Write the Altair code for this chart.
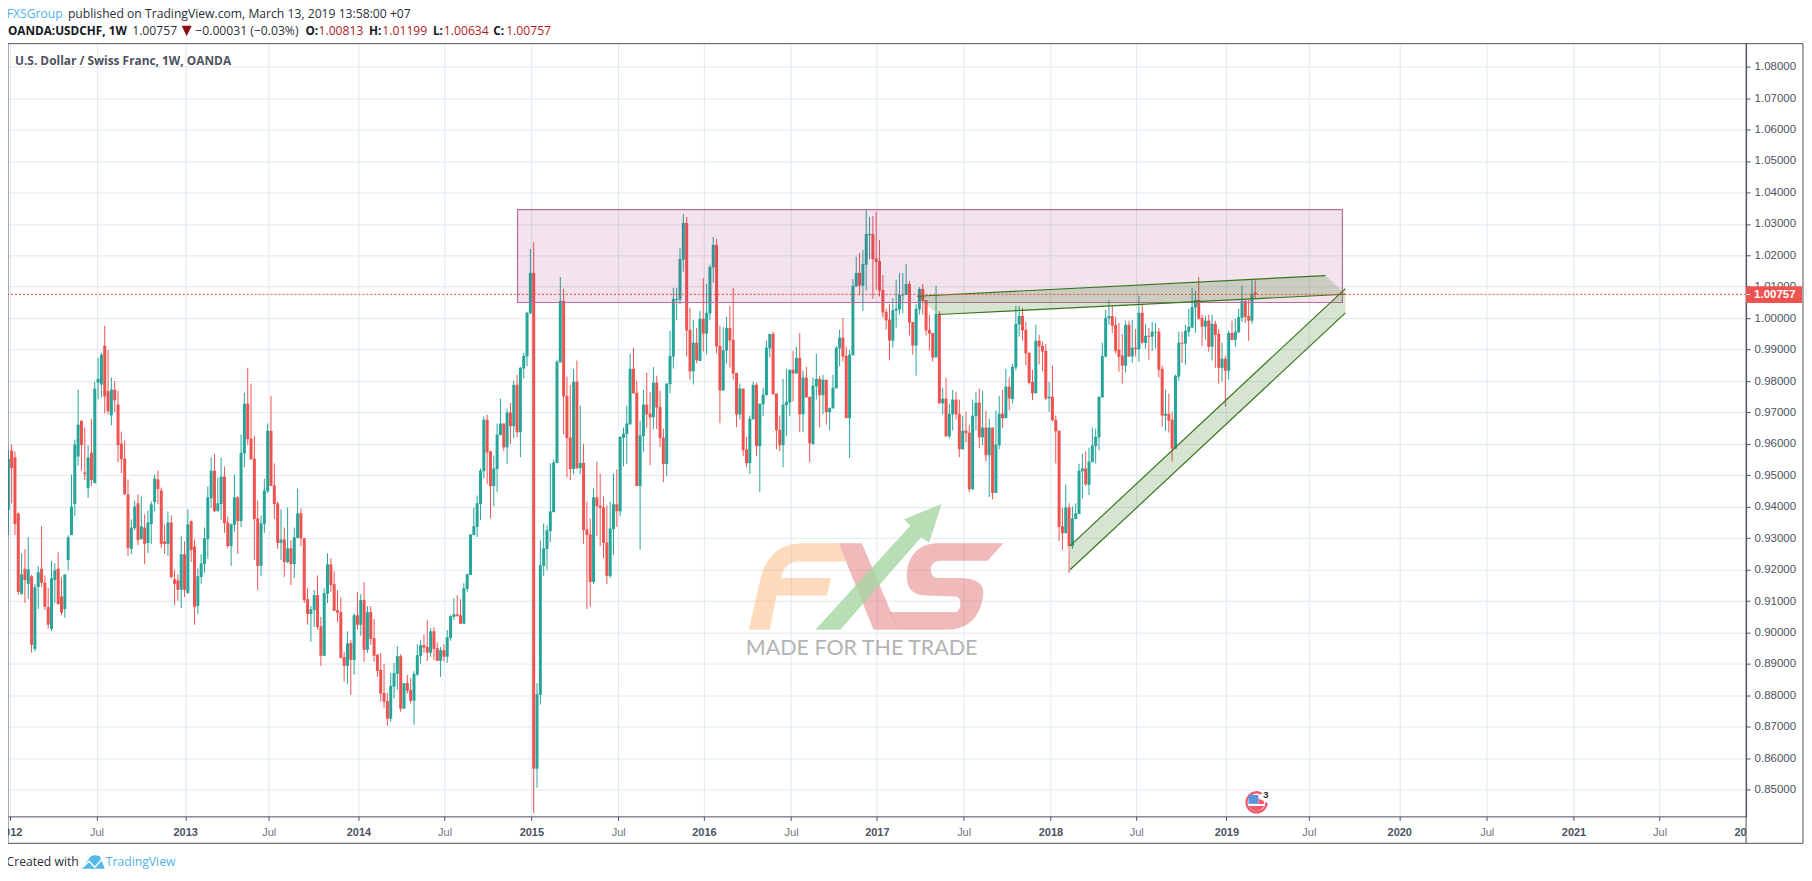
import altair as alt
import pandas as pd

# weekly candles: (open, high, low, close) in 1/10000 of a franc
ohlc_2012 = [(9390,9582,9310,9553),(9579,9598,9411,9523),(9557,9576,9310,9345),(9379,9382,9120,9129),(9123,9252,9120,9185),(9203,9265,9094,9167),(9155,9303,9107,9201),(9179,9183,8936,8961),(8948,9154,8939,9144),(9145,9211,9075,9192),(9203,9338,9145,9158),(9159,9182,9072,9082),(9081,9142,9012,9025),(9012,9227,9005,9173),(9167,9220,9094,9198),(9203,9255,9088,9091),(9115,9176,9056,9063),(9075,9185,9047,9185),(9231,9309,9198,9303),(9310,9503,9310,9401),(9409,9614,9370,9598),(9560,9773,9531,9661),(9674,9674,9515,9596),(9509,9652,9485,9504),(9459,9595,9428,9557),(9572,9680,9466,9485),(9475,9798,9475,9776),(9795,9874,9742,9807),(9789,9890,9748,9884),(9912,9976,9697,9751),(9768,9899,9694,9704),(9691,9811,9659,9773),(9773,9801,9701,9739),(9725,9769,9542,9596),(9601,9639,9507,9551),(9553,9611,9437,9440),(9439,9487,9244,9269),(9266,9360,9250,9334),(9332,9420,9326,9401),(9411,9439,9278,9294),(9297,9433,9297,9338),(9334,9376,9218,9282),(9285,9388,9253,9350),(9345,9417,9282,9408),(9415,9503,9386,9490),(9487,9515,9409,9456),(9452,9461,9269,9282),(9290,9344,9250,9282),(9282,9385,9244,9350),(9350,9373,9172,9177),(9169,9198,9088,9155),(9166,9185,9101,9136),(9136,9306,9078,9249)]
ohlc_2013 = [(9249,9290,9113,9136),(9126,9392,9123,9344),(9354,9357,9224,9262),(9274,9296,9025,9082),(9085,9204,9059,9179),(9177,9249,9155,9220),(9218,9334,9190,9300),(9297,9465,9234,9430),(9427,9557,9396,9515),(9515,9569,9383,9386),(9386,9493,9386,9411),(9409,9557,9358,9496),(9496,9528,9317,9348),(9350,9369,9269,9275),(9275,9347,9212,9344),(9342,9503,9320,9430),(9430,9433,9250,9355),(9355,9630,9336,9572),(9570,9763,9526,9728),(9728,9842,9596,9615),(9617,9792,9551,9551),(9553,9626,9231,9361),(9363,9420,9136,9212),(9212,9373,9180,9347),(9345,9490,9317,9452),(9450,9665,9443,9642),(9642,9753,9466,9466),(9468,9538,9361,9409),(9411,9417,9266,9285),(9285,9392,9231,9296),(9296,9334,9177,9224),(9224,9398,9221,9268),(9268,9293,9151,9218),(9218,9334,9174,9303),(9301,9458,9301,9379),(9379,9395,9275,9300),(9300,9300,9094,9103),(9106,9141,9025,9059),(9059,9084,8971,9074),(9072,9135,9018,9119),(9119,9182,9009,9018),(9020,9050,8894,8926),(8926,9141,8926,9125),(9123,9252,9094,9217),(9217,9236,9129,9151),(9154,9195,9069,9069),(9071,9135,9034,9063),(9065,9112,8917,8920),(8922,8938,8844,8894),(8894,9004,8837,8966),(8966,8976,8802,8913),(8913,9061,8866,9055)]
ohlc_2014 = [(9055,9128,9009,9025),(9025,9122,8990,9103),(9103,9160,8907,8945),(8945,9084,8936,9065),(9065,9084,8961,8980),(8982,9043,8907,8926),(8929,8932,8859,8878),(8881,8935,8780,8806),(8808,8900,8761,8780),(8782,8808,8704,8726),(8726,8871,8717,8830),(8828,8903,8790,8871),(8869,8957,8818,8925),(8925,8931,8748,8758),(8758,8839,8758,8839),(8839,8865,8806,8815),(8817,8855,8774,8783),(8783,8877,8707,8868),(8866,8963,8863,8928),(8926,8976,8901,8960),(8960,8993,8936,8952),(8954,9039,8910,8936),(8936,9014,8923,9004),(9004,9017,8913,8948),(8950,8969,8910,8910),(8910,8954,8859,8944),(8944,8963,8907,8923),(8923,9008,8904,8985),(8983,9055,8974,9052),(9050,9109,9040,9058),(9058,9119,9050,9053),(9055,9106,9028,9028),(9028,9157,9028,9141),(9139,9188,9129,9185),(9183,9312,9183,9312),(9310,9398,9310,9338),(9336,9436,9304,9411),(9409,9522,9358,9515),(9513,9687,9491,9677),(9677,9693,9472,9573),(9576,9579,9364,9466),(9466,9563,9402,9522),(9520,9665,9447,9630),(9628,9744,9628,9665),(9665,9665,9577,9589),(9589,9712,9536,9700),(9700,9731,9599,9656),(9656,9801,9618,9788),(9788,9820,9621,9637),(9637,9845,9558,9842),(9840,9890,9808,9880),(9878,10020,9847,10017)]
ohlc_2015 = [(10015,10220,10015,10144),(10144,10242,8425,8567),(8567,8839,8507,8804),(8802,9293,8771,9214),(9212,9347,9180,9268),(9266,9341,9199,9325),(9323,9539,9288,9385),(9383,9550,9383,9541),(9539,9868,9539,9861),(9859,10131,9859,10055),(10055,10093,9631,9751),(9753,9814,9494,9618),(9620,9788,9485,9520),(9520,9839,9504,9798),(9798,9865,9520,9523),(9523,9722,9504,9540),(9540,9601,9282,9326),(9328,9417,9075,9310),(9312,9363,9082,9161),(9161,9458,9155,9430),(9430,9544,9307,9402),(9404,9506,9275,9396),(9398,9433,9237,9285),(9287,9404,9155,9180),(9180,9417,9174,9331),(9329,9506,9247,9408),(9408,9519,9336,9386),(9386,9625,9370,9622),(9620,9652,9529,9633),(9631,9722,9536,9665),(9662,9887,9662,9839),(9839,9906,9761,9761),(9763,9801,9466,9466),(9466,9674,9263,9627),(9625,9772,9574,9725),(9725,9826,9650,9694),(9696,9766,9532,9685),(9685,9845,9647,9795),(9795,9817,9647,9716),(9718,9769,9590,9618),(9620,9649,9478,9536),(9536,9792,9497,9792),(9790,9960,9761,9880),(9878,10096,9840,10061),(10058,10096,9993,10061),(10059,10223,10045,10188),(10186,10331,10148,10303),(10303,10322,9878,9961),(9963,10033,9805,9831),(9831,9995,9789,9922),(9922,9969,9856,9866),(9864,10023,9864,9998)]
ohlc_2016 = [(9998,10128,9894,9951),(9951,10109,9885,10017),(10015,10169,9993,10163),(10161,10258,10113,10233),(10233,10252,9888,9910),(9912,9976,9666,9770),(9770,9972,9770,9898),(9897,10004,9856,9969),(9969,10039,9843,9929),(9931,10096,9805,9824),(9826,9826,9653,9694),(9694,9792,9678,9776),(9776,9776,9561,9580),(9582,9623,9526,9539),(9539,9690,9504,9680),(9678,9798,9678,9788),(9788,9795,9561,9593),(9593,9728,9447,9728),(9726,9779,9688,9757),(9755,9928,9755,9906),(9904,9950,9875,9950),(9950,9957,9758,9758),(9760,9760,9583,9643),(9645,9690,9577,9596),(9596,9807,9526,9725),(9723,9839,9624,9734),(9732,9836,9688,9836),(9836,9896,9735,9824),(9824,9909,9824,9874),(9874,9953,9638,9694),(9694,9833,9637,9811),(9811,9845,9748,9748),(9750,9750,9542,9602),(9600,9811,9596,9785),(9783,9887,9741,9807),(9807,9817,9653,9755),(9755,9820,9694,9804),(9804,9804,9662,9701),(9701,9715,9643,9715),(9713,9820,9713,9779),(9777,9912,9777,9906),(9904,9963,9847,9938),(9938,10001,9862,9878),(9880,9909,9682,9682),(9682,9899,9555,9884),(9882,10125,9882,10103),(10101,10195,10101,10144),(10144,10207,10074,10103),(10103,10217,10023,10172),(10170,10344,10088,10268),(10264,10322,10188,10268),(10268,10325,10062,10188)]
ohlc_2017 = [(10190,10338,10090,10179),(10182,10249,10069,10088),(10090,10137,10002,10018),(10020,10030,9964,9993),(9995,10045,9866,9929),(9928,10064,9906,10025),(10024,10122,9970,10030),(10028,10144,10012,10074),(10072,10144,10016,10076),(10074,10172,10074,10109),(10109,10118,9945,9986),(9988,9988,9884,9913),(9913,10045,9817,10030),(10028,10099,10012,10093),(10093,10109,10012,10055),(10057,10058,9945,9961),(9963,10011,9897,9951),(9953,9953,9862,9875),(9875,10103,9875,10014),(10014,10023,9729,9729),(9729,9779,9694,9744),(9744,9811,9624,9624),(9624,9728,9618,9696),(9694,9772,9643,9741),(9741,9766,9678,9694),(9696,9741,9558,9583),(9583,9690,9583,9642),(9642,9703,9605,9634),(9636,9661,9447,9456),(9456,9741,9453,9690),(9688,9766,9643,9731),(9731,9776,9586,9621),(9621,9769,9596,9652),(9652,9706,9545,9564),(9564,9680,9431,9652),(9652,9652,9424,9444),(9444,9706,9444,9598),(9596,9753,9583,9696),(9696,9772,9650,9682),(9682,9839,9682,9782),(9782,9811,9707,9745),(9743,9855,9729,9845),(9843,10039,9834,9982),(9980,10039,9942,10007),(10007,10033,9929,9961),(9963,9988,9850,9888),(9890,9890,9789,9795),(9797,9836,9739,9761),(9761,9979,9761,9928),(9928,9947,9853,9910),(9912,9925,9831,9894),(9896,9918,9739,9745)]
ohlc_2018 = [(9745,9798,9702,9750),(9750,9849,9672,9675),(9677,9690,9538,9640),(9642,9642,9291,9336),(9338,9398,9263,9316),(9316,9471,9316,9398),(9398,9411,9190,9275),(9275,9401,9266,9363),(9361,9411,9361,9379),(9377,9537,9377,9515),(9513,9569,9427,9522),(9522,9576,9466,9472),(9470,9588,9437,9544),(9542,9652,9542,9595),(9593,9649,9538,9623),(9621,9750,9580,9750),(9748,9922,9748,9880),(9878,10026,9875,10001),(10000,10058,9979,10007),(10007,10042,9953,9976),(9979,10004,9887,9896),(9900,9985,9830,9877),(9881,9950,9792,9849),(9849,9992,9827,9979),(9979,9992,9877,9878),(9878,9995,9858,9906),(9906,9966,9878,9901),(9901,10071,9861,10017),(10017,10045,9919,9922),(9921,9982,9903,9944),(9944,9969,9868,9941),(9941,9988,9896,9957),(9955,9985,9903,9957),(9957,9969,9811,9836),(9839,9849,9655,9690),(9690,9773,9642,9696),(9696,9760,9636,9674),(9677,9703,9544,9585),(9585,9820,9585,9817),(9814,9957,9801,9922),(9922,9957,9858,9919),(9919,9979,9852,9960),(9957,10030,9941,9973),(9970,10096,9969,10036),(10034,10087,9953,10058),(10058,10131,9995,9998),(10001,10011,9912,9973),(9973,10007,9931,9992),(9992,10011,9893,9909),(9909,10011,9865,9982),(9982,9992,9842,9947),(9950,9966,9792,9842),(9842,9922,9798,9871)]
ohlc_2019 = [(9871,9881,9719,9833),(9833,9960,9804,9953),(9953,9992,9931,9931),(9931,9998,9909,9957),(9955,10030,9953,10004),(10001,10103,9988,10055),(10055,10058,9985,10004),(10007,10058,9928,9992),(9992,10125,9982,10077),(10081.3,10119.9,10063.4,10075.7)]

tick_bars = [1.4,27.5,54.2,79.3,106.3,132.2,158.3,184.4,210.2,236.4,262.2,288.3,314.4,340.2,367.3,392.1,419.3,445.6,471.7,497.6,523.6]
tick_names = ["2012","Jul","2013","Jul","2014","Jul","2015","Jul","2016","Jul","2017","Jul","2018","Jul","2019","Jul","2020","Jul","2021","Jul","2022"]
price_ticks = [0.85,0.86,0.87,0.88,0.89,0.90,0.91,0.92,0.93,0.94,0.95,0.96,0.97,0.98,0.99,1.00,1.01,1.02,1.03,1.04,1.05,1.06,1.07,1.08]
last_price = 1.00757

zone = [dict(a=154.15, b=402.2, top=1.0345, bottom=1.00498)]
upper_band = [dict(bar=274.3, hi=1.00698, lo=1.00698), dict(bar=280.6, hi=1.00733, lo=1.00117),
              dict(bar=397.1, hi=1.01355, lo=1.00729), dict(bar=403.1, hi=1.00761, lo=1.00761)]
upper_hi_line = [dict(bar=274.3, p=1.00698), dict(bar=397.1, p=1.01355)]
upper_lo_line = [dict(bar=280.6, p=1.00117), dict(bar=403.1, p=1.00761)]
rising_band = [dict(bar=320.3, hi=0.92759, lo=0.91996), dict(bar=403.1, hi=1.00942, lo=1.00167)]
rising_hi_line = [dict(bar=320.3, p=0.92759), dict(bar=403.1, p=1.00942)]
rising_lo_line = [dict(bar=320.3, p=0.91996), dict(bar=403.1, p=1.00167)]

rows = []
for chunk in (ohlc_2012, ohlc_2013, ohlc_2014, ohlc_2015, ohlc_2016, ohlc_2017, ohlc_2018, ohlc_2019):
    rows.extend(chunk)
candles = pd.DataFrame(
    [dict(bar=i + 1, open=o / 1e4, high=h / 1e4, low=l / 1e4, close=c / 1e4) for i, (o, h, l, c) in enumerate(rows)]
)

W, H = 1741, 774   # plot area: page x 8..1749, page y 43..817
AX = "#4c525e"
GRID = "#dfe9f0"
UP, DOWN = "#26a69a", "#ef5350"
GREEN = "#38761d"
SANS = "Liberation Sans"
UI = "Open Sans"

xs = alt.Scale(domain=[0.91, 523.6], nice=False, zero=False, padding=0)
ys = alt.Scale(domain=[0.84153, 1.08732], nice=False, zero=False, padding=0)

year_test = "datum.value === " + " || datum.value === ".join(str(b) for b, n in zip(tick_bars, tick_names) if n != "Jul")
label_expr = "{" + ",".join(f"'{b}':'{n}'" for b, n in zip(tick_bars, tick_names)) + "}[datum.value]"
x_axis = alt.Axis(
    values=tick_bars, labelExpr=label_expr, title=None, grid=True, gridColor=GRID, gridWidth=1,
    domainColor=AX, tickColor=AX, tickSize=4, labelFont=SANS, labelFontSize=11, labelPadding=6,
    labelOverlap=False, labelFlush=False, labelBound=False,
    labelColor={"condition": {"test": year_test, "value": AX}, "value": "#6f7480"},
    labelFontWeight={"condition": {"test": year_test, "value": "bold"}, "value": "normal"},
)
y_axis = alt.Axis(
    values=price_ticks, format=".5f", orient="right", title=None, grid=True, gridColor=GRID, gridWidth=1,
    domainColor=AX, tickColor=AX, tickSize=4, labelFont=SANS, labelFontSize=11.5, labelColor=AX,
    labelPadding=4, labelOverlap=False, labelFlush=False, labelBound=False,
)

X = alt.X("bar:Q", scale=xs, axis=x_axis)
def Y(field):
    return alt.Y(field, scale=ys, axis=y_axis)

candle_color = alt.condition("datum.close >= datum.open", alt.value(UP), alt.value(DOWN))

wicks = alt.Chart(candles).mark_rule(strokeWidth=1).encode(x=X, y=Y("low:Q"), y2="high:Q", color=candle_color)
bodies = alt.Chart(candles).mark_bar(size=3, orient="vertical").encode(
    x=X, y=Y("open:Q"), y2="close:Q", color=candle_color
)
zone_layer = alt.Chart(pd.DataFrame(zone)).mark_rect(
    fill="#9c2a6f", fillOpacity=0.13, stroke="#bd6c9d", strokeWidth=1.2
).encode(x=alt.X("a:Q", scale=xs, axis=x_axis), x2="b:Q", y=Y("top:Q"), y2="bottom:Q")

def band(rows_):
    return alt.Chart(pd.DataFrame(rows_)).mark_area(color=GREEN, opacity=0.2).encode(x=X, y=Y("hi:Q"), y2="lo:Q")

def edge(rows_):
    return alt.Chart(pd.DataFrame(rows_)).mark_line(color=GREEN, strokeWidth=1.2).encode(x=X, y=Y("p:Q"))

price_line = alt.Chart(pd.DataFrame({"p": [last_price]})).mark_rule(
    color="#f44336", strokeWidth=1, strokeDash=[2, 2]
).encode(y=Y("p:Q"))

one = alt.Data(values=[{}])

def shape(path, fill=None, opacity=1.0, stroke=None, width=0.0):
    # the path is written in page pixels: size 4 makes one path unit one pixel
    kw = dict(shape=path, size=4, opacity=opacity)
    if fill:
        kw.update(filled=True, fill=fill, strokeWidth=0)
    else:
        kw.update(filled=False, stroke=stroke, strokeWidth=width)
    return alt.Chart(one).mark_point(**kw).encode(x=alt.value(-8), y=alt.value(-43))

def label(text, x, y, color=AX, size=11, weight="normal", font=SANS, align="left"):
    return alt.Chart(one).mark_text(
        text=text, color=color, fontSize=size, fontWeight=weight, font=font,
        align=align, baseline="middle"
    ).encode(x=alt.value(x - 8), y=alt.value(y - 43))

logo = [
    shape("M750 630 L771 630 L777.7 595.7 L828.3 595.7 L832.3 578.3 L782.7 578.3 Q785 562 800 561.7 L847.3 561.7 L840 543.3 L803.3 543.3 C781 543.3 768 556 762 578 Z", fill="#f9a04f", opacity=0.38),
    shape("M840 543.3 L863.3 543.3 L900 630 L875 630 Z", fill="#d94a4a", opacity=0.38),
    shape("M1005 543.3 L940 543.3 C916.7 543.3 908.3 560 908.3 576.7 Q908.3 595 926.7 595.7 L956.7 596.7 Q963.3 597.3 961.7 606.7 Q960 612.3 956.7 612.3 L891.7 612.3 L900 630 L948.3 630 C973.3 630 983.3 613.3 985 593.3 Q985 579 963.3 578.3 L940 578.3 Q931.7 577.7 932.3 568.3 Q934 561 941.7 561 L989.3 561 Z", fill="#d94a4a", opacity=0.38),
    shape("M816.7 630 L841.7 630 L922.7 537.3 L930.7 542.7 L943.3 504 L905.7 519.3 L911.7 526 Z", fill="#a6d6a4", opacity=0.8),
    label("MADE FOR THE TRADE", 747, 649, color="#b3b3b3", size=21.5, font="Lato"),
]

event = [
    shape("M1263.6 794.3 A10 10 0 1 0 1268.6 803", stroke="#f4596b", width=2.5),
    shape("M1250.5 795.5 L1260.5 795.5 L1260.5 804.5 L1250.5 804.5 Z", fill="#5b93dc"),
    shape("M1260.5 799 L1266 801.5 L1266 804.5 L1260.5 804.5 Z", fill="#f4596b"),
    shape("M1250.5 806.5 L1266.5 806.5 Q1263 811.5 1258.5 811.5 Q1253.5 811.5 1250.5 806.5 Z", fill="#f4596b"),
    label("3", 1265, 795.5, color="#333333", size=10, weight="bold"),
]

chrome = [
    # the end of the axis strip, which the clipped 2022 label may not enter
    alt.Chart(one).mark_rect(fill="white").encode(
        x=alt.value(W), x2=alt.value(1797), y=alt.value(H + 1), y2=alt.value(800)
    ),
    alt.Chart(one).mark_rect(filled=False, stroke=AX, strokeWidth=1).encode(
        x=alt.value(0), x2=alt.value(1798), y=alt.value(0), y2=alt.value(801)
    ),
    alt.Chart(one).mark_rule(color=AX, strokeWidth=1).encode(
        x=alt.value(W), y=alt.value(0), y2=alt.value(801)
    ),
    alt.Chart(one).mark_rect(fill=DOWN).encode(
        x=alt.value(W), x2=alt.value(1797), y=alt.value(243), y2=alt.value(259.7)
    ),
    alt.Chart(one).mark_rule(color="white", strokeWidth=1).encode(
        x=alt.value(W), x2=alt.value(W + 4), y=alt.value(251.3)
    ),
    label("1.00757", 1757, 294.5, color="white", size=11.5, weight="bold"),
]

S1, S2 = 12.2, 11.8
header = [
    label("FXSGroup", 6.7, 13.5, color="#4fb3e6", size=S1, font=UI),
    label("published on TradingView.com, March 13, 2019 13:58:00 +07", 68, 13.5, color="#2a2e39", size=S1, font=UI),
    label("OANDA:USDCHF, 1W", 8, 30.5, color="#131722", size=S2, weight="bold", font=UI),
    label("1.00757", 132.4, 30.5, color="#2a2e39", size=S1, font=UI),
    shape("M182 25 L192 25 L187 35.5 Z", fill="#8b0f0f"),
    label("\u22120.00031 (\u22120.03%)", 195.6, 30.5, color="#2a2e39", size=S1, font=UI),
    label("O:", 306, 30.5, color="#131722", size=S2, weight="bold", font=UI),
    label("1.00813", 319, 30.5, color="#b01c1c", size=S1, font=UI),
    label("H:", 369.6, 30.5, color="#131722", size=S2, weight="bold", font=UI),
    label("1.01199", 383, 30.5, color="#b01c1c", size=S1, font=UI),
    label("L:", 433.6, 30.5, color="#131722", size=S2, weight="bold", font=UI),
    label("1.00634", 444.6, 30.5, color="#b01c1c", size=S1, font=UI),
    label("C:", 494, 30.5, color="#131722", size=S2, weight="bold", font=UI),
    label("1.00757", 507, 30.5, color="#b01c1c", size=S1, font=UI),
    label("U.S. Dollar / Swiss Franc, 1W, OANDA", 15, 60.5, color=AX, size=11.9, weight="bold", font=UI),
]

footer = [
    label("Created with", 6.5, 863, color="#2a2e39", size=12.2, font=UI),
    shape("M82 869.5 L90 858 Q92 855.5 96 856 L100 857 L105 869.5 Z", fill="#56b9e9"),
    shape("M83 868 L89 862 L95 868 L104 858", stroke="white", width=1.5),
    label("TradingView", 106, 863, color="#4fb3e6", size=12.2, font=UI),
]

layers = [wicks, bodies, zone_layer, band(upper_band), band(rising_band),
          edge(upper_hi_line), edge(upper_lo_line), edge(rising_hi_line), edge(rising_lo_line),
          price_line] + logo + event + chrome + header + footer

chart = alt.layer(*layers).properties(
    width=W, height=H,
    padding={"left": 0, "top": 35, "right": 58, "bottom": 56},
    autosize=alt.AutoSizeParams(type="none"),
    background="white",
).configure_view(stroke=None)

chart.save("out.html", embed_options={"renderer": "svg", "actions": False})
